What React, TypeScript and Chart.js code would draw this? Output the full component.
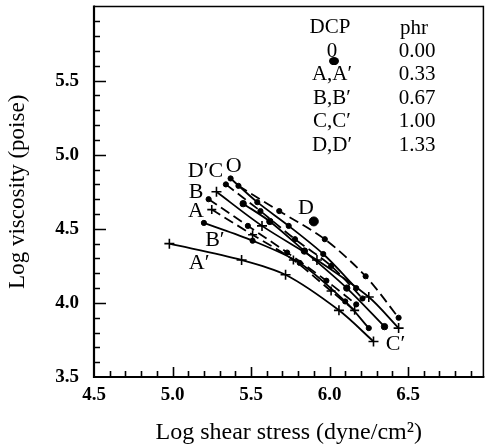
import React, { useEffect, useRef } from "react";
import { Chart, registerables } from "chart.js";

Chart.register(...registerables);

const SERIF = '"Liberation Serif", "DejaVu Serif", serif';

// Log shear stress (x) and log viscosity (y) for each DCP level
const xO = [5.37, 5.54, 5.74, 5.96, 6.17];
const yO = [4.84, 4.68, 4.52, 4.33, 4.1];
const xA = [5.25, 5.51, 5.77, 6.01, 6.16];
const yA = [4.63, 4.46, 4.29, 4.08, 3.95];
const xB = [5.23, 5.48, 5.73, 5.98, 6.17];
const yB = [4.7, 4.52, 4.34, 4.15, 3.99];
const xC = [5.34, 5.56, 5.78, 6.01, 6.21];
const yC = [4.8, 4.62, 4.43, 4.25, 4.03];
const xD = [5.42, 5.68, 5.97, 6.23, 6.44];
const yD = [4.79, 4.62, 4.43, 4.18, 3.9];
const xA2 = [4.98, 5.44, 5.72, 6.06, 6.28];
const yA2 = [4.4, 4.29, 4.19, 3.95, 3.74];
const xB2 = [5.2, 5.51, 5.81, 6.1, 6.25];
const yB2 = [4.54, 4.42, 4.27, 4.01, 3.83];
const xC2 = [5.45, 5.62, 5.84, 6.11, 6.35];
const yC2 = [4.67, 4.55, 4.35, 4.1, 3.84];
const xD2 = [5.28, 5.57, 5.92, 6.25, 6.44];
const yD2 = [4.75, 4.52, 4.29, 4.04, 3.83];

// isolated heavy dot beside curve D
const xSpot = [5.9];
const ySpot = [4.55];

// curve tags written on the plot
const tagText = ["D′C", "O", "B", "A", "B′", "A′", "D", "C′"];
const tagX = [5.21, 5.39, 5.15, 5.15, 5.27, 5.17, 5.85, 6.42];
const tagY = [4.89, 4.92, 4.75, 4.62, 4.42, 4.27, 4.64, 3.72];

// key table
const dcpLabels = ["0", "A,A′", "B,B′", "C,C′", "D,D′"];
const phrValues = [0.0, 0.33, 0.67, 1.0, 1.33];

const toPoints = (xs: number[], ys: number[]) => xs.map((x, i) => ({ x, y: ys[i] }));

type Series = { xs: number[]; ys: number[]; dashed: boolean; marker: string; r: number };

const series: Series[] = [
  { xs: xA2, ys: yA2, dashed: false, marker: "cross", r: 5 },
  { xs: xB2, ys: yB2, dashed: false, marker: "circle", r: 2.6 },
  { xs: xC2, ys: yC2, dashed: false, marker: "circle", r: 3.2 },
  { xs: xD2, ys: yD2, dashed: false, marker: "cross", r: 5 },
  { xs: xO, ys: yO, dashed: false, marker: "circle", r: 2.6 },
  { xs: xA, ys: yA, dashed: true, marker: "cross", r: 4.5 },
  { xs: xB, ys: yB, dashed: true, marker: "circle", r: 2.6 },
  { xs: xC, ys: yC, dashed: true, marker: "circle", r: 2.6 },
  { xs: xD, ys: yD, dashed: true, marker: "circle", r: 2.6 },
];

const isStep = (v: number, every: number) => {
  const t = Math.round(v * 10);
  return Math.abs(v * 10 - t) < 1e-6 && t % every === 0;
};

const noScalePadding = (s: any) => {
  s.paddingTop = 0;
  s.paddingBottom = 0;
  s.paddingLeft = 0;
  s.paddingRight = 0;
};

const framePlugin = {
  id: "frame",
  afterDraw(chart: any) {
    const { ctx, chartArea, scales } = chart;
    const { left, right, top, bottom } = chartArea;
    const xs = scales.x;
    const ys = scales.y;
    ctx.save();
    ctx.strokeStyle = "#000";
    ctx.lineCap = "butt";
    // thin top and right edges
    ctx.lineWidth = 1.5;
    ctx.beginPath();
    ctx.moveTo(left, top);
    ctx.lineTo(right, top);
    ctx.lineTo(right, bottom);
    ctx.stroke();
    // heavier axes
    ctx.lineWidth = 2.2;
    ctx.beginPath();
    ctx.moveTo(left, top - 1);
    ctx.lineTo(left, bottom);
    ctx.lineTo(right + 1, bottom);
    ctx.stroke();
    // inward tick marks every 0.1
    ctx.lineWidth = 1.6;
    ctx.beginPath();
    for (let i = 46; i <= 69; i++) {
      const v = i / 10;
      const px = Math.round(xs.getPixelForValue(v)) + 0.5;
      const len = i % 5 === 0 ? 10 : 6;
      ctx.moveTo(px, bottom);
      ctx.lineTo(px, bottom - len);
    }
    for (let i = 36; i <= 59; i++) {
      const v = i / 10;
      const py = Math.round(ys.getPixelForValue(v)) + 0.5;
      const len = i % 5 === 0 ? 12 : 6;
      ctx.moveTo(left, py);
      ctx.lineTo(left + len, py);
    }
    ctx.stroke();

    // curve tags
    ctx.fillStyle = "#000";
    ctx.font = `22px ${SERIF}`;
    ctx.textAlign = "center";
    ctx.textBaseline = "middle";
    tagText.forEach((t, i) => {
      ctx.fillText(t, xs.getPixelForValue(tagX[i]), ys.getPixelForValue(tagY[i]));
    });

    // key table
    const col1 = left + 236;
    const col2 = left + 320;
    const row0 = top + 21;
    const step = 23.5;
    ctx.font = `21px ${SERIF}`;
    ctx.fillText("DCP", col1, row0);
    ctx.fillText("phr", col2, row0 + 1);
    dcpLabels.forEach((lab, i) => {
      const yy = row0 + step * (i + 1);
      ctx.fillText(lab, col1 + 2, yy);
      ctx.fillText(phrValues[i].toFixed(2), col2 + 3, yy);
    });
    // marker sample under the "0" entry
    ctx.beginPath();
    ctx.ellipse(col1 + 4, row0 + step + 10, 5, 4, 0, 0, Math.PI * 2);
    ctx.fill();
    ctx.restore();
  },
};

export default function App() {
  const ref = useRef<HTMLCanvasElement | null>(null);

  useEffect(() => {
    if (!ref.current) return;
    const datasets: any[] = series.map((s) => ({
      data: toPoints(s.xs, s.ys),
      showLine: true,
      borderColor: "#000",
      backgroundColor: "#000",
      borderWidth: 1.8,
      borderDash: s.dashed ? [10, 5] : [],
      tension: 0.3,
      pointStyle: s.marker,
      pointRadius: s.r,
      pointBorderWidth: s.marker === "cross" ? 1.6 : 1,
      pointBorderColor: "#000",
      pointBackgroundColor: "#000",
    }));
    datasets.push({
      data: toPoints(xSpot, ySpot),
      showLine: false,
      pointStyle: "circle",
      pointRadius: 4.5,
      pointBackgroundColor: "#000",
      pointBorderColor: "#000",
    });

    const chart = new Chart(ref.current, {
      type: "scatter",
      data: { datasets },
      plugins: [framePlugin],
      options: {
        responsive: false,
        animation: false,
        layout: { padding: { top: 5, right: 2, left: 0, bottom: 0 } },
        plugins: { legend: { display: false }, tooltip: { enabled: false } },
        scales: {
          x: {
            type: "linear",
            min: 4.5,
            max: 6.98,
            grid: { display: false, drawTicks: false },
            border: { display: false },
            ticks: {
              stepSize: 0.1,
              autoSkip: false,
              maxRotation: 0,
              padding: 7,
              color: "#000",
              font: { family: SERIF, size: 19, weight: "bold" },
              callback: (v: any) => (isStep(Number(v), 5) && Number(v) < 6.9 ? Number(v).toFixed(1) : ""),
            },
            title: {
              display: true,
              text: "Log shear stress (dyne/cm²)",
              color: "#000",
              font: { family: SERIF, size: 24 },
              padding: { top: 0, bottom: 0 },
            },
            afterFit: (s: any) => {
              s.height = 70;
              noScalePadding(s);
            },
          },
          y: {
            type: "linear",
            min: 3.5,
            max: 6.0,
            grid: { display: false, drawTicks: false },
            border: { display: false },
            ticks: {
              stepSize: 0.1,
              autoSkip: false,
              padding: 15,
              color: "#000",
              font: { family: SERIF, size: 19, weight: "bold" },
              callback: (v: any) => (isStep(Number(v), 5) && Number(v) < 5.9 ? Number(v).toFixed(1) : ""),
            },
            title: {
              display: true,
              text: "Log viscosity (poise)",
              color: "#000",
              font: { family: SERIF, size: 23 },
              padding: { top: 4, bottom: 0 },
            },
            afterFit: (s: any) => {
              s.width = 94;
              noScalePadding(s);
            },
          },
        },
      },
    });
    return () => chart.destroy();
  }, []);

  return (
    <div style={{ position: "fixed", left: 0, top: 0, width: 490, height: 447, background: "#fff" }}>
      <canvas ref={ref} width={490} height={447} />
    </div>
  );
}
